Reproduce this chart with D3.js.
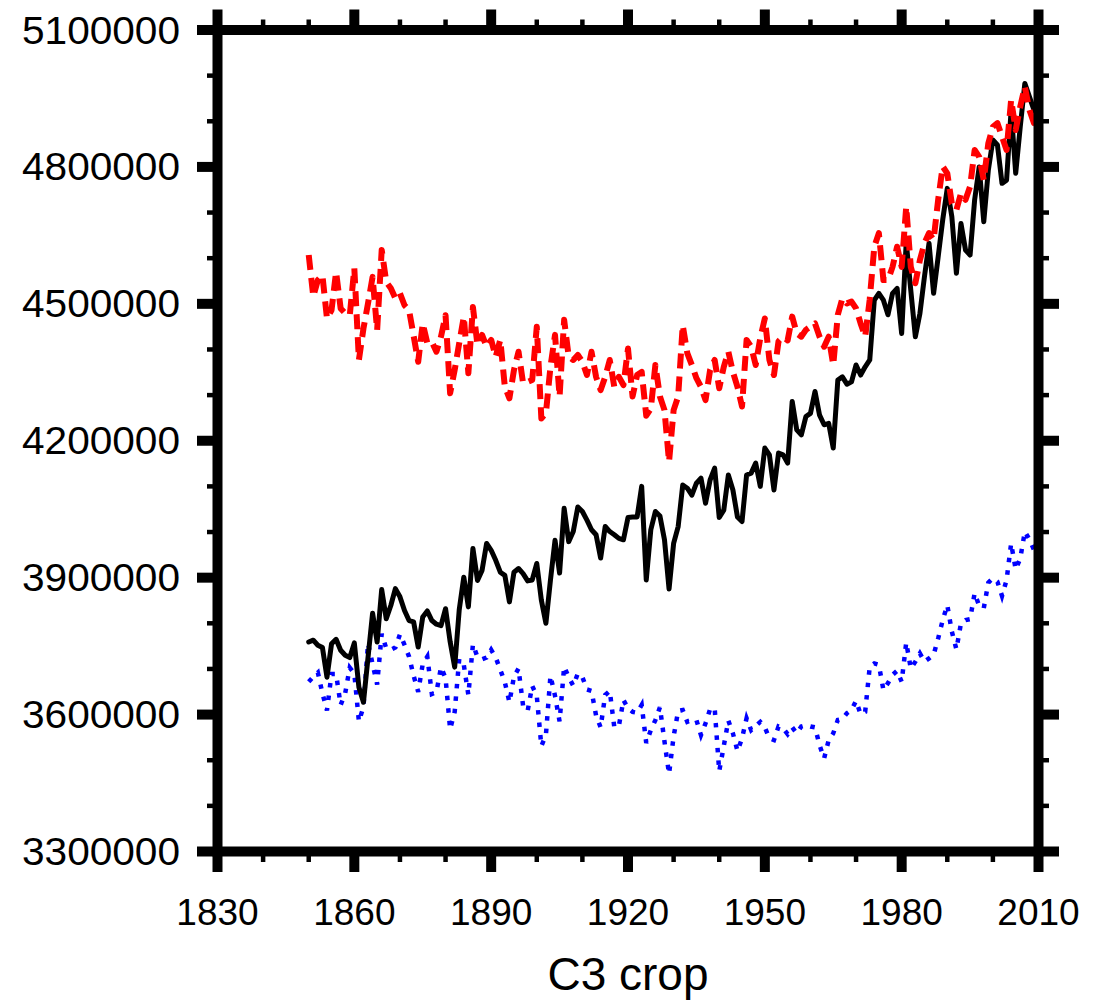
<!DOCTYPE html>
<html>
<head>
<meta charset="utf-8">
<script src="https://cdn.jsdelivr.net/npm/d3@7"></script>
<style>
  html, body { margin: 0; padding: 0; background: #fff; }
  text { font-family: "Liberation Sans", Arial, Helvetica, sans-serif; fill: #000; }
</style>
</head>
<body>
<script>
// ---------------- data ----------------
const startYear = 1850;
const endYear = 2010;

const totalSeries = [
  3759000, 3763000, 3752000, 3747000, 3682000, 3755000, 3765000, 3741000, 3730000, 3725000,
  3757000, 3660000, 3627000, 3725000, 3822000, 3759000, 3874000, 3810000, 3839000, 3876000,
  3858000, 3828000, 3806000, 3803000, 3748000, 3814000, 3827000, 3806000, 3798000, 3795000,
  3832000, 3760000, 3704000, 3830000, 3901000, 3836000, 3964000, 3894000, 3916000, 3975000,
  3960000, 3938000, 3912000, 3905000, 3847000, 3912000, 3920000, 3909000, 3893000, 3895000,
  3931000, 3851000, 3800000, 3895000, 3982000, 3910000, 4052000, 3979000, 4001000, 4055000,
  4045000, 4026000, 4005000, 3994000, 3943000, 4012000, 4001000, 3994000, 3986000, 3983000,
  4032000, 4033000, 4033000, 4100000, 3895000, 4005000, 4045000, 4035000, 3983000, 3875000,
  3975000, 4012000, 4103000, 4096000, 4081000, 4107000, 4118000, 4063000, 4114000, 4140000,
  4032000, 4048000, 4125000, 4092000, 4033000, 4023000, 4125000, 4129000, 4151000, 4100000,
  4184000, 4169000, 4092000, 4173000, 4169000, 4151000, 4286000, 4224000, 4213000, 4253000,
  4260000, 4308000, 4256000, 4235000, 4238000, 4184000, 4333000, 4340000, 4324000, 4329000,
  4366000, 4344000, 4362000, 4377000, 4508000, 4523000, 4508000, 4476000, 4523000, 4534000,
  4435000, 4636000, 4530000, 4428000, 4479000, 4560000, 4633000, 4523000, 4603000, 4684000,
  4753000, 4691000, 4567000, 4676000, 4618000, 4607000, 4728000, 4800000, 4680000, 4793000,
  4859000, 4848000, 4764000, 4771000, 4925000, 4786000, 4888000, 4983000, 4954000, 4925000,
  4910000
];

const redSeries = [
  4607000, 4516000, 4552000, 4563000, 4468000, 4486000, 4570000, 4490000, 4479000, 4475000,
  4578000, 4377000, 4446000, 4501000, 4559000, 4442000, 4618000, 4548000, 4534000, 4512000,
  4523000, 4497000, 4486000, 4430000, 4373000, 4457000, 4414000, 4417000, 4395000, 4428000,
  4475000, 4304000, 4355000, 4414000, 4472000, 4348000, 4493000, 4410000, 4432000, 4406000,
  4421000, 4384000, 4421000, 4318000, 4293000, 4355000, 4395000, 4326000, 4329000, 4333000,
  4450000, 4249000, 4260000, 4362000, 4432000, 4297000, 4465000, 4384000, 4377000, 4388000,
  4373000, 4344000, 4395000, 4340000, 4311000, 4340000, 4377000, 4318000, 4340000, 4322000,
  4402000, 4297000, 4344000, 4351000, 4255000, 4270000, 4366000, 4297000, 4267000, 4154000,
  4267000, 4297000, 4453000, 4392000, 4366000, 4337000, 4318000, 4289000, 4355000, 4377000,
  4315000, 4362000, 4395000, 4351000, 4318000, 4275000, 4421000, 4406000, 4366000, 4425000,
  4468000, 4377000, 4344000, 4418000, 4428000, 4420000, 4472000, 4435000, 4428000, 4443000,
  4450000, 4457000, 4428000, 4406000, 4428000, 4366000, 4476000, 4512000, 4501000, 4505000,
  4490000, 4457000, 4428000, 4510000, 4625000, 4655000, 4552000, 4552000, 4581000, 4625000,
  4581000, 4713000, 4581000, 4545000, 4596000, 4633000, 4655000, 4640000, 4728000, 4801000,
  4786000, 4720000, 4706000, 4742000, 4728000, 4757000, 4837000, 4822000, 4771000, 4852000,
  4888000, 4896000, 4866000, 4837000, 4947000, 4881000, 4932000, 4976000, 4925000, 4896000,
  4890000
];

const blueSeries = [
  3672000, 3683000, 3692000, 3647000, 3609000, 3689000, 3689000, 3621000, 3647000, 3703000,
  3690000, 3585000, 3617000, 3756000, 3711000, 3666000, 3777000, 3745000, 3742000, 3747000,
  3776000, 3753000, 3727000, 3685000, 3650000, 3711000, 3727000, 3645000, 3649000, 3704000,
  3680000, 3568000, 3606000, 3722000, 3709000, 3643000, 3754000, 3726000, 3721000, 3725000,
  3742000, 3725000, 3698000, 3671000, 3627000, 3683000, 3701000, 3619000, 3608000, 3663000,
  3641000, 3531000, 3555000, 3685000, 3641000, 3585000, 3705000, 3682000, 3663000, 3690000,
  3682000, 3655000, 3652000, 3598000, 3572000, 3643000, 3652000, 3572000, 3575000, 3632000,
  3614000, 3606000, 3604000, 3621000, 3538000, 3566000, 3588000, 3616000, 3541000, 3470000,
  3552000, 3608000, 3610000, 3584000, 3588000, 3588000, 3555000, 3581000, 3612000, 3614000,
  3476000, 3531000, 3587000, 3559000, 3520000, 3548000, 3592000, 3566000, 3575000, 3584000,
  3572000, 3548000, 3544000, 3574000, 3570000, 3557000, 3572000, 3559000, 3574000, 3577000,
  3574000, 3572000, 3533000, 3504000, 3544000, 3559000, 3588000, 3590000, 3603000, 3610000,
  3630000, 3601000, 3606000, 3705000, 3712000, 3709000, 3654000, 3669000, 3687000, 3696000,
  3672000, 3758000, 3701000, 3716000, 3734000, 3716000, 3723000, 3731000, 3767000, 3807000,
  3840000, 3782000, 3743000, 3800000, 3807000, 3809000, 3866000, 3838000, 3833000, 3889000,
  3899000, 3891000, 3860000, 3895000, 3975000, 3918000, 3942000, 4001000, 3984000, 3961000,
  3950000
];

const xTickValues = [1830, 1860, 1890, 1920, 1950, 1980, 2010];
const xMinorValues = [1840, 1850, 1870, 1880, 1900, 1910, 1930, 1940, 1960, 1970, 1990, 2000];
const yTickValues = [3300000, 3600000, 3900000, 4200000, 4500000, 4800000, 5100000];
const yMinorValues = [3400000, 3500000, 3700000, 3800000, 4000000, 4100000, 4300000, 4400000,
                      4600000, 4700000, 4900000, 5000000];
const xTitle = "C3 crop";

// ---------------- drawing ----------------
(function () {
  const W = 1113, H = 1001;
  const pLeft = 217.5, pRight = 1038.5, pTop = 30, pBottom = 851.5;

  const years = d3.range(startYear, endYear + 1);

  const x = d3.scaleLinear().domain([1830, 2010]).range([pLeft, pRight]);
  const y = d3.scaleLinear().domain([3300000, 5100000]).range([pBottom, pTop]);

  const svg = d3.select("body").append("svg")
    .attr("width", W).attr("height", H)
    .attr("viewBox", `0 0 ${W} ${H}`);

  svg.append("rect").attr("width", W).attr("height", H).attr("fill", "#fff");

  const line = d3.line()
    .x((d, i) => x(years[i]))
    .y(d => y(d));

  const plot = svg.append("g");

  plot.append("path").datum(blueSeries)
    .attr("d", line)
    .attr("fill", "none")
    .attr("stroke", "#0000ff")
    .attr("stroke-width", 4.5)
    .attr("stroke-dasharray", "4.5,8")
    .attr("stroke-linecap", "butt")
    .attr("stroke-linejoin", "miter");

  plot.append("path").datum(totalSeries)
    .attr("d", line)
    .attr("fill", "none")
    .attr("stroke", "#000")
    .attr("stroke-width", 5)
    .attr("stroke-linejoin", "round")
    .attr("stroke-linecap", "round");

  plot.append("path").datum(redSeries)
    .attr("d", line)
    .attr("fill", "none")
    .attr("stroke", "#ff0000")
    .attr("stroke-width", 6)
    .attr("stroke-dasharray", "15,8")
    .attr("stroke-linecap", "butt")
    .attr("stroke-linejoin", "round");

  // ticks
  const ticks = svg.append("g").attr("stroke", "#000").attr("stroke-linecap", "butt");
  const majLen = 20.5, minLen = 10.5, majW = 10, minW = 4.5;

  xTickValues.forEach(v => {
    ticks.append("line").attr("x1", x(v)).attr("x2", x(v)).attr("y1", pBottom).attr("y2", pBottom + majLen).attr("stroke-width", majW);
    ticks.append("line").attr("x1", x(v)).attr("x2", x(v)).attr("y1", pTop).attr("y2", pTop - majLen).attr("stroke-width", majW);
  });
  xMinorValues.forEach(v => {
    ticks.append("line").attr("x1", x(v)).attr("x2", x(v)).attr("y1", pBottom).attr("y2", pBottom + minLen).attr("stroke-width", minW);
    ticks.append("line").attr("x1", x(v)).attr("x2", x(v)).attr("y1", pTop).attr("y2", pTop - minLen).attr("stroke-width", minW);
  });
  yTickValues.forEach(v => {
    ticks.append("line").attr("y1", y(v)).attr("y2", y(v)).attr("x1", pLeft).attr("x2", pLeft - majLen).attr("stroke-width", majW);
    ticks.append("line").attr("y1", y(v)).attr("y2", y(v)).attr("x1", pRight).attr("x2", pRight + majLen).attr("stroke-width", majW);
  });
  yMinorValues.forEach(v => {
    ticks.append("line").attr("y1", y(v)).attr("y2", y(v)).attr("x1", pLeft).attr("x2", pLeft - minLen).attr("stroke-width", minW);
    ticks.append("line").attr("y1", y(v)).attr("y2", y(v)).attr("x1", pRight).attr("x2", pRight + minLen).attr("stroke-width", minW);
  });

  // frame
  svg.append("rect")
    .attr("x", pLeft).attr("y", pTop)
    .attr("width", pRight - pLeft).attr("height", pBottom - pTop)
    .attr("fill", "none").attr("stroke", "#000").attr("stroke-width", 10);

  // labels
  const labels = svg.append("g");
  xTickValues.forEach(v => {
    labels.append("text")
      .attr("x", x(v)).attr("y", 925)
      .attr("text-anchor", "middle")
      .attr("font-size", 37)
      .text(String(v));
  });
  yTickValues.forEach(v => {
    labels.append("text")
      .attr("x", 180).attr("y", y(v) + 13.5)
      .attr("text-anchor", "end")
      .attr("font-size", 38)
      .attr("textLength", 158)
      .attr("lengthAdjust", "spacingAndGlyphs")
      .text(String(v));
  });

  svg.append("text")
    .attr("x", (pLeft + pRight) / 2).attr("y", 990)
    .attr("text-anchor", "middle")
    .attr("font-size", 46)
    .text(xTitle);
})();
</script>
</body>
</html>
